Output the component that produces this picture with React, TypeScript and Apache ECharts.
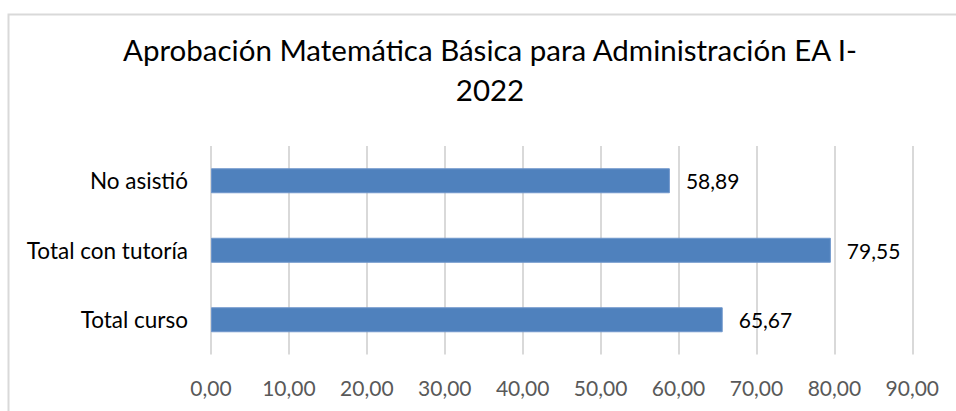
import React, { useEffect, useRef } from "react";
import * as echarts from "echarts";

const titleText = "Aprobación Matemática Básica para Administración EA I-\n2022";
const categories = ["Total curso", "Total con tutoría", "No asistió"];
const values = [65.67, 79.55, 58.89];
const axisMin = 0;
const axisMax = 90;
const axisInterval = 10;

const FONT = "Lato";

export default function App() {
  const ref = useRef<HTMLDivElement>(null);
  useEffect(() => {
    document.body.style.margin = "0";
    const chart = echarts.init(ref.current!, null, { renderer: "svg" });
    chart.setOption({
      animation: false,
      backgroundColor: "#ffffff",
      title: {
        text: titleText,
        left: 485,
        top: 24,
        textAlign: "center",
        textStyle: {
          fontFamily: FONT,
          fontSize: 29.5,
          fontWeight: "normal",
          color: "#000000",
          lineHeight: 40,
        },
      },
      graphic: [
        {
          type: "rect",
          shape: { x: 8.5, y: 14.5, width: 1000, height: 500 },
          style: { fill: "none", stroke: "#d9d9d9", lineWidth: 2 },
          silent: true,
        },
      ],
      grid: { left: 211, right: 43.7, top: 146, bottom: 56.5, containLabel: false },
      xAxis: {
        type: "value",
        min: axisMin,
        max: axisMax,
        interval: axisInterval,
        axisLine: { show: false },
        axisTick: { show: false },
        splitLine: { show: true, lineStyle: { color: "#d9d9d9", width: 2 } },
        axisLabel: {
          fontFamily: FONT,
          fontSize: 21,
          color: "#595959",
          margin: 22,
          formatter: (v: number) => v.toFixed(2).replace(".", ","),
        },
      },
      yAxis: {
        type: "category",
        data: categories,
        axisLine: { show: false },
        axisTick: { show: false },
        axisLabel: {
          fontFamily: FONT,
          fontSize: 22.5,
          color: "#000000",
          margin: 23,
        },
      },
      series: [
        {
          type: "bar",
          data: values,
          barWidth: 25,
          itemStyle: { color: "#4f81bd", borderColor: "#6f96cb", borderWidth: 1 },
          label: {
            show: true,
            position: "right",
            distance: 16,
            fontFamily: FONT,
            fontSize: 21,
            color: "#000000",
            formatter: (p: any) => Number(p.value).toFixed(2).replace(".", ","),
          },
        },
      ],
    });
    return () => chart.dispose();
  }, []);
  return <div ref={ref} style={{ position: "fixed", left: 0, top: 0, width: 956, height: 411 }} />;
}
